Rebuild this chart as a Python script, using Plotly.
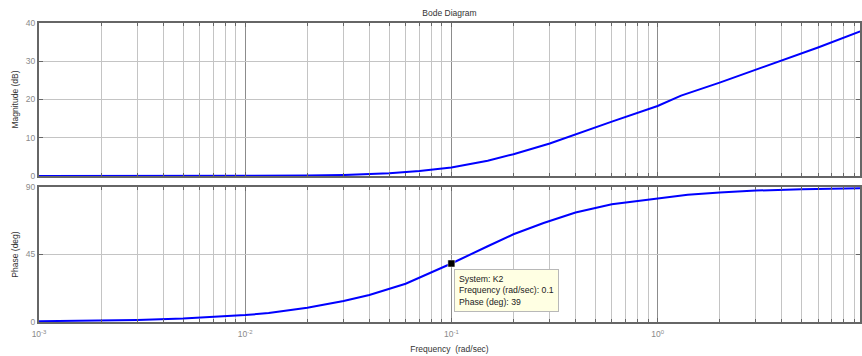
import plotly.graph_objects as go

# Bode response of system K2
freq_mag = [0.001, 0.01, 0.02, 0.03, 0.04, 0.05, 0.07, 0.1, 0.15, 0.2, 0.3, 0.4,
            0.6, 1.0, 1.3, 2.0, 3.0, 4.0, 6.0, 9.6]
mag_db = [0.0, 0.03, 0.1, 0.25, 0.4, 0.7, 1.3, 2.2, 4.0, 5.7, 8.5, 10.9,
          14.2, 18.3, 21.0, 24.4, 27.8, 30.3, 33.6, 37.8]

freq_ph = [0.001, 0.002, 0.003, 0.005, 0.007, 0.01, 0.013, 0.02, 0.03, 0.04,
           0.06, 0.08, 0.1, 0.15, 0.2, 0.28, 0.4, 0.6, 1.0, 1.4, 2.0, 3.0, 5.0, 9.6]
phase_deg = [0.5, 0.9, 1.4, 2.3, 3.3, 4.6, 6.0, 9.5, 14.0, 18.0,
             25.5, 33.0, 39.0, 50.5, 58.5, 66.0, 73.0, 78.5, 82.5, 84.8, 86.4, 87.6, 88.5, 89.2]

tip_freq = 0.1
tip_phase = 39
system_name = "K2"

decade_vals = [0.001, 0.01, 0.1, 1, 10]
decade_text = ["10<sup>-3</sup>", "10<sup>-2</sup>", "10<sup>-1</sup>", "10<sup>0</sup>", "10<sup>1</sup>"]
mag_ticks = [0, 10, 20, 30, 40]
phase_ticks = [0, 45, 90]

BLUE = "#0000ff"
FRAME = "#666666"
MAJOR_GRID = "#8c8c8c"
MINOR_GRID = "#c4c4c4"
FONT = "Liberation Sans, Arial, sans-serif"
TICKFONT = dict(family=FONT, size=8.5, color="#8a8a8a")
LABELFONT = dict(family=FONT, size=8.5, color="#333333")

fig = go.Figure()
fig.add_trace(go.Scatter(x=freq_mag, y=mag_db, mode="lines",
                         line=dict(color=BLUE, width=2), xaxis="x", yaxis="y",
                         showlegend=False, hoverinfo="skip"))
fig.add_trace(go.Scatter(x=freq_ph, y=phase_deg, mode="lines",
                         line=dict(color=BLUE, width=2), xaxis="x2", yaxis="y2",
                         showlegend=False, hoverinfo="skip"))
fig.add_trace(go.Scatter(x=[tip_freq], y=[tip_phase], mode="markers",
                         marker=dict(symbol="square", size=7, color="black",
                                     line=dict(color="#ffffff", width=0.5)),
                         xaxis="x2", yaxis="y2", showlegend=False, hoverinfo="skip"))

xcommon = dict(
    type="log", range=[-3, 0.9817],
    tickvals=decade_vals, ticktext=decade_text,
    showgrid=True, gridcolor=MAJOR_GRID, gridwidth=1,
    minor=dict(dtick="D1", showgrid=True, gridcolor=MINOR_GRID, gridwidth=1,
               ticks="inside", ticklen=3, tickcolor=FRAME),
    ticks="inside", ticklen=4, tickcolor=FRAME,
    showline=True, linecolor=FRAME, linewidth=2, mirror="allticks",
    zeroline=False, tickfont=TICKFONT,
)
ycommon = dict(
    showgrid=True, gridcolor=MINOR_GRID, gridwidth=1,
    ticks="inside", ticklen=4, tickcolor=FRAME,
    showline=True, linecolor=FRAME, linewidth=2, mirror="allticks",
    zeroline=False, tickfont=TICKFONT,
)

fig.update_layout(
    width=862, height=356,
    margin=dict(l=39, r=0, t=23, b=34),
    paper_bgcolor="white", plot_bgcolor="white",
    title=dict(text="Bode Diagram", x=0.5, xanchor="center", xref="paper",
               yref="container", y=1 - 13 / 356, yanchor="middle", font=LABELFONT),
    xaxis=dict(xcommon, anchor="y", showticklabels=False, domain=[0, 1]),
    xaxis2=dict(xcommon, anchor="y2", matches="x", domain=[0, 1],
                ticklabelstandoff=3,
                title=dict(text="Frequency  (rad/sec)", font=LABELFONT, standoff=8)),
    yaxis=dict(ycommon, domain=[0.4883, 1], range=[0, 40], tickvals=mag_ticks,
               title=dict(text="Magnitude (dB)", font=LABELFONT, standoff=6)),
    yaxis2=dict(ycommon, domain=[0, 0.4515], range=[0, 90], tickvals=phase_ticks,
                title=dict(text="Phase (deg)", font=LABELFONT, standoff=6)),
)

fig.add_annotation(
    x=-1, y=tip_phase, xref="x2", yref="y2",
    text=(f"System: {system_name}<br>Frequency (rad/sec): {tip_freq:g}"
          f"<br>Phase (deg): {tip_phase}"),
    showarrow=False, xanchor="left", yanchor="top", align="left",
    xshift=3, yshift=-5,
    font=dict(family=FONT, size=8.7, color="#222222"),
    bgcolor="#ffffe3", bordercolor="#b8b8b8", borderwidth=1, borderpad=4,
)

fig.write_html("out.html")
